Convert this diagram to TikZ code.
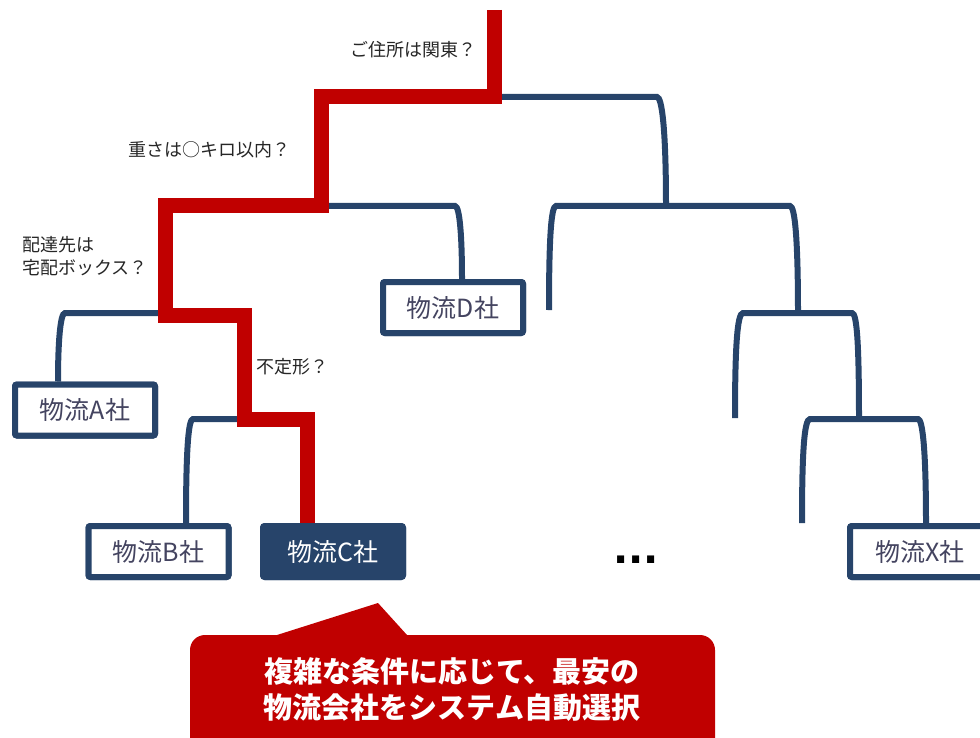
\documentclass[tikz,border=0pt]{standalone}
\usepackage{fontspec}
\setmainfont{Noto Sans CJK JP}
\newfontfamily\dotsfont{DejaVu Sans}
\definecolor{navy}{RGB}{39,68,106}
\definecolor{pathred}{RGB}{192,0,0}
\definecolor{boxtext}{RGB}{68,68,96}
\definecolor{labeltext}{RGB}{38,38,38}
\tikzset{
  tree/.style={draw=navy, line width=6pt, line cap=butt},
  redpath/.style={draw=pathred, line width=15pt, line join=miter, line cap=butt},
  cobox/.style={draw=navy, line width=6pt, fill=white, rounded corners=2pt,
    minimum width=140pt, minimum height=51pt, inner sep=0pt,
    text=boxtext, font=\fontsize{25}{25}\selectfont},
  cosel/.style={cobox, fill=navy, text=white},
  qlabel/.style={anchor=west, inner sep=0pt, text=labeltext, align=left,
    font=\fontsize{18}{23}\selectfont},
  calltext/.style={text=white, align=center, inner sep=0pt,
    font=\fontsize{29}{36}\selectfont\bfseries}
}
\begin{document}
\begin{tikzpicture}[x=1pt,y=-1pt]
\useasboundingbox (0,0) rectangle (980,738);
\clip (0,0) rectangle (980,738);

% company boxes
\node[cobox] (A) at (85,410) {物流A社};
\node[cobox] (B) at (158.5,551.5) {物流B社};
\node[cosel] (C) at (333,551.5) {物流C社};
\node[cobox] (D) at (453,307.5) {物流D社};
\node[cobox] (X) at (920,551.5) {物流X社};

% junction coordinates
\coordinate (r0) at (494,97);
\coordinate (j1) at (666,206);
\coordinate (e1) at (549,310);
\coordinate (j2) at (798,313);
\coordinate (e2) at (735,418);
\coordinate (j3) at (859,419);
\coordinate (e3) at (802,523);
\coordinate (rD) at (321,206);
\coordinate (rA) at (165,313);
\coordinate (rB) at (244,419);
\coordinate (top) at (494,10);
\coordinate (legA) at (58,0);
\coordinate (legB) at (186,0);
\coordinate (legC) at (307,0);
\coordinate (legD) at (462,0);
\coordinate (legX) at (926,0);

% navy tree
\draw[tree] (r0) -- (657,97) .. controls (662,97) and (666,130) .. (j1);
\draw[tree] (e1) .. controls (549,240) and (551,206) .. (556,206) -- (790,206)
  .. controls (795,206) and (798,240) .. (j2);
\draw[tree] (e2) .. controls (735,350) and (737,313) .. (743,313) -- (852,313)
  .. controls (857,313) and (859,345) .. (j3);
\draw[tree] (e3) .. controls (802,455) and (804,419) .. (810,419) -- (918,419)
  .. controls (923,419) and (926,455) .. (X.north -| legX);
\draw[tree] (rD) -- (455,206) .. controls (460,206) and (462,240) .. (D.north -| legD);
\draw[tree] (rA) -- (65,313) .. controls (60,313) and (58,345) .. (A.north -| legA);
\draw[tree] (rB) -- (193,419) .. controls (188,419) and (186,455) .. (B.north -| legB);

% redraw boxes on top of connector ends
\node[cobox] at (A) {物流A社};
\node[cobox] at (B) {物流B社};
\node[cosel] at (C) {物流C社};
\node[cobox] at (D) {物流D社};
\node[cobox] at (X) {物流X社};

% red decision path
\draw[redpath] (top) -- (r0) -- (321,97) -- (rD) -- (165,206) -- (165,315)
  -- (244,315) -- (rB) -- (307,419) -- (C.north -| legC);

% question labels
\node[qlabel] (q1) at (350,50) {ご住所は関東？};
\node[qlabel] (q2) at (128,150) {重さは○キロ以内？};
\node[qlabel] (q3) at (22,256.5) {配達先は\\宅配ボックス？};
\node[qlabel] (q4) at (256,367) {不定形？};

% ellipsis
\node[anchor=base, inner sep=0pt, font=\dotsfont\bfseries\fontsize{40}{40}\selectfont] (dots) at (636,563) {...};

% callout
\fill[pathred] (190,745) -- (190,650) arc[start angle=180, end angle=270, radius=15]
  -- (277,635) -- (378,603) -- (407,635) -- (700,635)
  arc[start angle=270, end angle=360, radius=15] -- (715,745) -- cycle;
\node[calltext] (msg) at (452,690) {複雑な条件に応じて、最安の\\物流会社をシステム自動選択};
\end{tikzpicture}
\end{document}
